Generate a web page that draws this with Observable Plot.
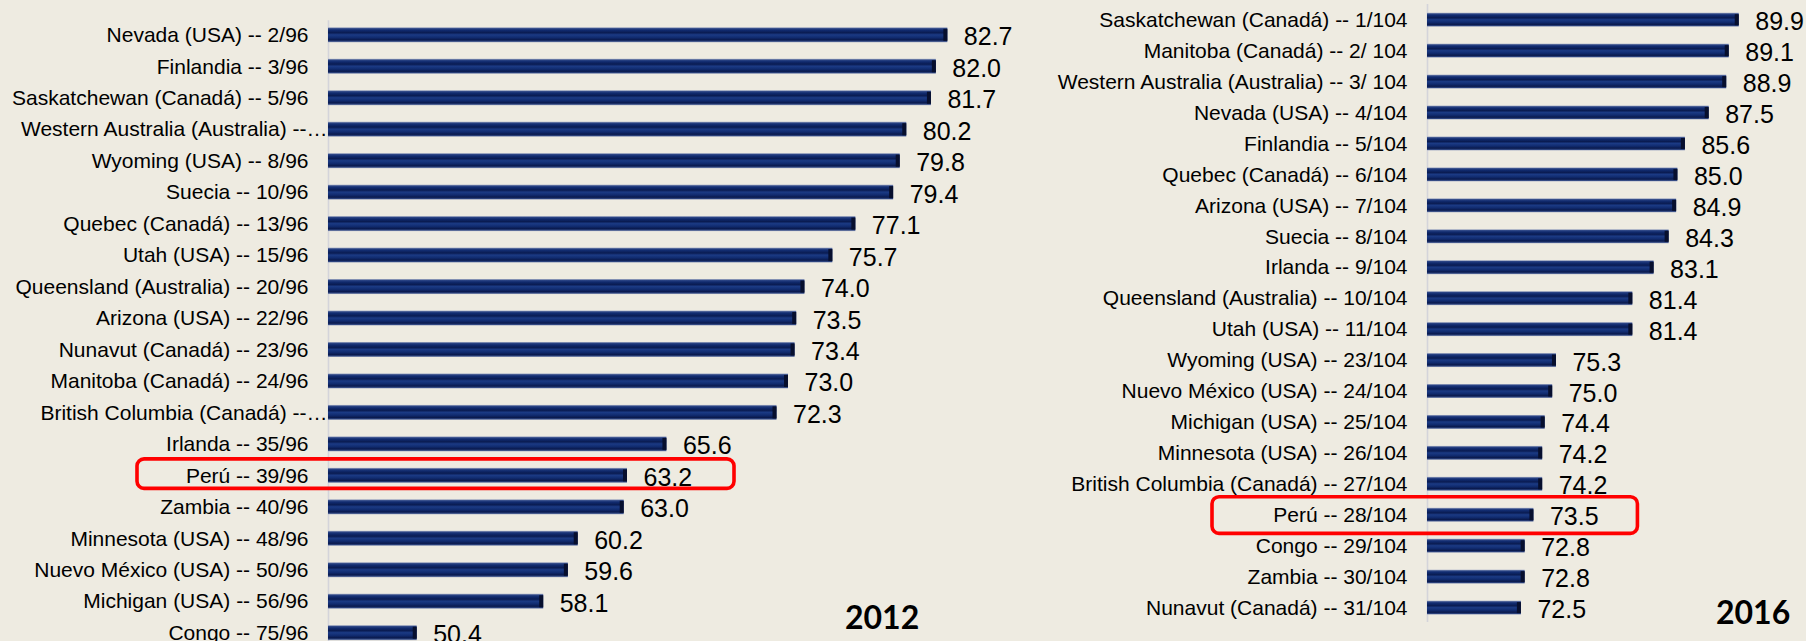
<!DOCTYPE html>
<html>
<head>
<meta charset="utf-8">
<script src="https://cdn.jsdelivr.net/npm/d3@7"></script>
<script src="https://cdn.jsdelivr.net/npm/@observablehq/plot@0.6"></script>
<style>
  html, body { margin: 0; padding: 0; background: #eeebe1; width: 1806px; height: 641px; overflow: hidden; }
  #wrap { position: relative; width: 1806px; height: 641px; }
  .panel { position: absolute; top: 0; }
  .year { position: absolute; font-family: Lato, "Open Sans", sans-serif; font-weight: 700; font-size: 32px; line-height: 32px; color: #000; }
</style>
</head>
<body>
<svg width="0" height="0" style="position:absolute">
  <defs>
    <linearGradient id="barGrad" x1="0" y1="0" x2="0" y2="1">
      <stop offset="0" stop-color="#aab2c8"/>
      <stop offset="0.09" stop-color="#2a4384"/>
      <stop offset="0.2" stop-color="#102a6e"/>
      <stop offset="0.36" stop-color="#0a1c52"/>
      <stop offset="0.5" stop-color="#1b3a84"/>
      <stop offset="0.68" stop-color="#112c70"/>
      <stop offset="0.84" stop-color="#0a1a4e"/>
      <stop offset="0.93" stop-color="#2c437e"/>
      <stop offset="1" stop-color="#a3abc2"/>
    </linearGradient>
  </defs>
</svg>
<div id="wrap"></div>
<script>
// ---- Data ----
const labels2012 = [
  "Nevada (USA) -- 2/96",
  "Finlandia -- 3/96",
  "Saskatchewan (Canadá) -- 5/96",
  "Western Australia (Australia) --…",
  "Wyoming (USA) -- 8/96",
  "Suecia -- 10/96",
  "Quebec (Canadá) -- 13/96",
  "Utah (USA) -- 15/96",
  "Queensland (Australia) -- 20/96",
  "Arizona (USA) -- 22/96",
  "Nunavut (Canadá) -- 23/96",
  "Manitoba (Canadá) -- 24/96",
  "British Columbia (Canadá) --…",
  "Irlanda -- 35/96",
  "Perú -- 39/96",
  "Zambia -- 40/96",
  "Minnesota (USA) -- 48/96",
  "Nuevo México (USA) -- 50/96",
  "Michigan (USA) -- 56/96",
  "Congo -- 75/96"
];
const values2012 = [82.7, 82.0, 81.7, 80.2, 79.8, 79.4, 77.1, 75.7, 74.0, 73.5, 73.4, 73.0, 72.3, 65.6, 63.2, 63.0, 60.2, 59.6, 58.1, 50.4];

const labels2016 = [
  "Saskatchewan (Canadá) -- 1/104",
  "Manitoba (Canadá) -- 2/ 104",
  "Western Australia (Australia) -- 3/ 104",
  "Nevada (USA) -- 4/104",
  "Finlandia -- 5/104",
  "Quebec (Canadá) -- 6/104",
  "Arizona (USA) -- 7/104",
  "Suecia -- 8/104",
  "Irlanda -- 9/104",
  "Queensland (Australia) -- 10/104",
  "Utah (USA) -- 11/104",
  "Wyoming (USA) -- 23/104",
  "Nuevo México (USA) -- 24/104",
  "Michigan (USA) -- 25/104",
  "Minnesota (USA) -- 26/104",
  "British Columbia (Canadá) -- 27/104",
  "Perú -- 28/104",
  "Congo -- 29/104",
  "Zambia -- 30/104",
  "Nunavut (Canadá) -- 31/104"
];
const values2016 = [89.9, 89.1, 88.9, 87.5, 85.6, 85.0, 84.9, 84.3, 83.1, 81.4, 81.4, 75.3, 75.0, 74.4, 74.2, 74.2, 73.5, 72.8, 72.8, 72.5];

const highlight2012 = "Perú -- 39/96";
const highlight2016 = "Perú -- 28/104";
const yearLabels = ["2012", "2016"];

// ---- Drawing ----
function panel(labels, values, hl, o) {
  const data = labels.map((l, i) => ({label: l, value: values[i]}));
  const hlData = data.filter(d => d.label === hl);
  const xmin = o.xDomain[0];
  const truncated = labels.filter(l => l.endsWith("…"));
  const normal = labels.filter(l => !l.endsWith("…"));
  const marks = [
    Plot.ruleX([xmin], {stroke: "#d4d4da", strokeWidth: 1.6, insetTop: o.ruleTop, insetBottom: o.ruleBottom}),
    Plot.barX(data, {x1: d => xmin, x2: "value", y: "label", fill: "url(#barGrad)"}),
    Plot.barX(data, {x1: "value", x2: "value", y: "label", insetLeft: -4, insetTop: 1.5, insetBottom: 1.5, fill: "#070f2e"}),
    Plot.text(data, {x: "value", y: "label", text: d => d.value.toFixed(1), textAnchor: "start", dx: 16, dy: 2, fontSize: 25, fill: "#000"}),
    Plot.axisY(normal, {tickSize: 0, tickPadding: o.tickPadding, fontSize: 21, fill: "#000", label: null})
  ];
  if (truncated.length) {
    marks.push(Plot.axisY(truncated, {tickSize: 0, tickPadding: 1, fontSize: 21, fill: "#000", label: null}));
  }
  marks.push(Plot.barX(hlData, {
    x1: d => xmin, x2: "value", y: "label",
    fill: "none", stroke: "#ff0000", strokeWidth: 3.6, rx: 7,
    insetLeft: o.boxLeft, insetRight: o.boxRight, insetTop: o.boxTop, insetBottom: o.boxBottom
  }));
  return Plot.plot({
    width: o.width,
    height: 641,
    marginLeft: o.marginLeft,
    marginRight: o.marginRight,
    marginTop: o.marginTop,
    marginBottom: o.marginBottom,
    style: {background: "transparent", fontFamily: "'Liberation Sans', Arial, sans-serif", overflow: "visible"},
    x: {domain: o.xDomain, axis: null},
    y: {domain: labels, paddingInner: o.pad, paddingOuter: 0, round: false, axis: null},
    marks
  });
}

const wrap = document.getElementById("wrap");

const left = panel(labels2012, values2012, highlight2012, {
  width: 1040, marginLeft: 328, marginRight: 22, marginTop: 27.3, marginBottom: 0.8,
  xDomain: [45, 87], pad: 0.523, ruleTop: -7, ruleBottom: -2, tickPadding: 20,
  boxLeft: -191, boxRight: -107, boxTop: -9, boxBottom: -5.5
});
left.classList.add("panel");
left.style.left = "0px";
wrap.appendChild(left);

const right = panel(labels2016, values2016, highlight2016, {
  width: 786, marginLeft: 407, marginRight: 66, marginTop: 12.7, marginBottom: 26.4,
  xDomain: [65, 90], pad: 0.548, ruleTop: -8.7, ruleBottom: -7.4, tickPadding: 20,
  boxLeft: -215, boxRight: -104, boxTop: -11, boxBottom: -11.6
});
right.classList.add("panel");
right.style.left = "1020px";
wrap.appendChild(right);

const yPos = [{left: 845, top: 601}, {left: 1716, top: 596}];
yearLabels.forEach((t, i) => {
  const d = document.createElement("div");
  d.className = "year";
  d.textContent = t;
  d.style.left = yPos[i].left + "px";
  d.style.top = yPos[i].top + "px";
  wrap.appendChild(d);
});
</script>
</body>
</html>
